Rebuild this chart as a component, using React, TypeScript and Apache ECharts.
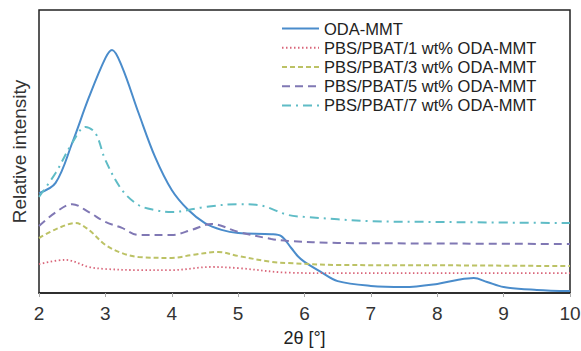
import React, { useEffect, useRef } from "react";
import * as echarts from "echarts";

const seriesNames = [
  "ODA-MMT",
  "PBS/PBAT/1 wt% ODA-MMT",
  "PBS/PBAT/3 wt% ODA-MMT",
  "PBS/PBAT/5 wt% ODA-MMT",
  "PBS/PBAT/7 wt% ODA-MMT",
];

const odaMmt: [number, number][] = [
  [2, 35.3], [2.25, 38.9], [2.5, 53], [2.75, 69], [3.0, 83], [3.1, 85.9], [3.25, 80],
  [3.5, 63.6], [3.75, 48], [4.0, 36.4], [4.25, 29.3], [4.5, 24.7], [4.75, 22.3],
  [5.0, 21.2], [5.5, 20.8], [5.65, 20.1], [5.8, 15.9], [5.9, 13], [6.0, 11],
  [6.25, 7.4], [6.5, 4.2], [7.0, 2.5], [7.5, 2.1], [8.0, 3.2], [8.3, 4.6],
  [8.55, 5.3], [8.75, 3.9], [9.0, 2.1], [9.5, 1.1], [10, 0.7],
];

const pbs1: [number, number][] = [
  [2, 10.2], [2.4, 11.7], [2.75, 9.2], [3.0, 8.5], [3.5, 8.1], [4.0, 8.1],
  [4.6, 9.2], [5.0, 8.8], [5.75, 7.2], [6.5, 7.0], [8, 7.0], [10, 7.0],
];

const pbs3: [number, number][] = [
  [2, 19.4], [2.25, 22.5], [2.55, 24.7], [2.75, 22.3], [3.0, 17], [3.25, 14.1],
  [3.5, 12.7], [4.0, 12.4], [4.3, 13.4], [4.7, 14.5], [5.0, 13.1], [5.5, 11],
  [5.75, 10.6], [6.5, 9.9], [8, 9.8], [10, 9.5],
];

const pbs5: [number, number][] = [
  [2, 23.7], [2.25, 28.5], [2.5, 31.4], [2.75, 28.6], [3.0, 25.1], [3.25, 23],
  [3.5, 20.5], [4.0, 20.5], [4.3, 22.3], [4.6, 24.4], [5.0, 21.6], [5.5, 19.1],
  [5.75, 18.4], [6.5, 17.7], [8, 17.5], [10, 17.3],
];

const pbs7: [number, number][] = [
  [2, 34], [2.25, 42.4], [2.5, 53], [2.7, 58.7], [2.85, 56.5], [3.0, 47],
  [3.25, 36.4], [3.5, 31.1], [3.75, 29.3], [4.0, 28.6], [4.5, 30.4], [5.0, 31.4],
  [5.3, 31.1], [5.75, 27.6], [6.0, 26.9], [7.0, 25.4], [8.0, 25.1], [10, 24.7],
];

const xTicks = { min: 2, max: 10, interval: 1 };

export default function App() {
  const ref = useRef<HTMLDivElement>(null);
  useEffect(() => {
    if (!ref.current) return;
    const chart = echarts.init(ref.current, undefined, { renderer: "svg" });
    const font = "Liberation Sans, Arial, Helvetica, sans-serif";
    const mk = (
      name: string,
      data: [number, number][],
      color: string,
      type: any,
      width: number
    ) => ({
      name,
      type: "line",
      data,
      smooth: 0.35,
      showSymbol: false,
      symbol: "none",
      lineStyle: { color, type, width },
      itemStyle: { color },
    });
    chart.setOption({
      animation: false,
      backgroundColor: "#fff",
      textStyle: { fontFamily: font },
      grid: {
        left: 39,
        top: 10,
        right: 11,
        bottom: 58,
        show: true,
        borderColor: "#222",
        borderWidth: 1.5,
        outerBoundsMode: "none",
        containLabel: false,
      },
      legend: {
        orient: "vertical",
        left: 276,
        top: 14,
        itemWidth: 37,
        itemHeight: 10,
        itemGap: 0,
        itemStyle: { opacity: 0 },
        textStyle: { fontSize: 16.5, lineHeight: 19.2, color: "#222", fontFamily: font },
        data: seriesNames,
      },
      xAxis: {
        type: "value",
        min: xTicks.min,
        max: xTicks.max,
        interval: xTicks.interval,
        name: "2θ [°]",
        nameLocation: "middle",
        nameGap: 36,
        nameTextStyle: { fontSize: 18, color: "#222" },
        axisLine: { show: true, lineStyle: { color: "#222", width: 1.5 } },
        axisTick: { show: true, length: 4, lineStyle: { color: "#aaa" } },
        axisLabel: { fontSize: 19, color: "#333", margin: 11 },
        splitLine: { show: false },
      },
      yAxis: {
        type: "value",
        min: 0,
        max: 100,
        name: "Relative intensity",
        nameLocation: "middle",
        nameGap: 10,
        nameTextStyle: { fontSize: 19, color: "#333" },
        axisLine: { show: false },
        axisTick: { show: false },
        axisLabel: { show: false },
        splitLine: { show: false },
      },
      series: [
        mk(seriesNames[0], odaMmt, "#4a8ccb", "solid", 2),
        mk(seriesNames[1], pbs1, "#d9667a", [1.5, 2.5], 1.8),
        mk(seriesNames[2], pbs3, "#bcc265", [5, 3], 2),
        mk(seriesNames[3], pbs5, "#8078b4", [8, 5], 2),
        mk(seriesNames[4], pbs7, "#5fbcc6", [9, 5, 2, 5], 2),
      ],
    });
    return () => chart.dispose();
  }, []);
  return (
    <div
      ref={ref}
      style={{ position: "fixed", left: 0, top: 0, width: 581, height: 351 }}
    />
  );
}
